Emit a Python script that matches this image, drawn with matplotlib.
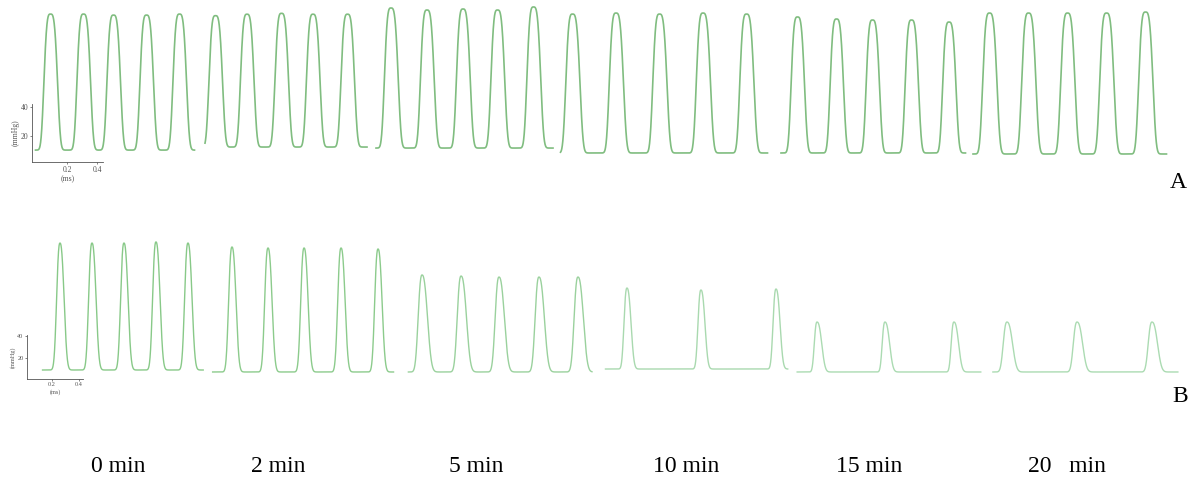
import numpy as np
import matplotlib
matplotlib.use("Agg")
import matplotlib.pyplot as plt

plt.rcParams['font.family'] = ['Liberation Serif', 'DejaVu Serif']

# labels under the traces
time_labels = ['0 min', '2 min', '5 min', '10 min', '15 min', '20   min']

# panel A: one block per time point (time in ms, pressure in mmHg)
a_start = [-0.01, 1.12, 2.26, 3.49, 4.96, 6.24]
a_end = [1.05, 2.20, 3.44, 4.87, 6.19, 7.53]
a_base = [10.3, 12.4, 11.7, 8.3, 8.3, 7.6]
a_peak_t = [
    [0.09, 0.31, 0.51, 0.73, 0.95],
    [1.19, 1.40, 1.63, 1.84, 2.07],
    [2.36, 2.60, 2.84, 3.07, 3.31],
    [3.57, 3.86, 4.15, 4.44, 4.73],
    [5.07, 5.33, 5.57, 5.83, 6.08],
    [6.35, 6.61, 6.87, 7.13, 7.39],
]
a_peak_p = [
    [104.1, 104.1, 103.4, 103.4, 104.1],
    [103.0, 104.0, 104.6, 104.0, 104.0],
    [108.3, 106.9, 107.6, 106.9, 109.0],
    [104.1, 104.8, 104.1, 104.8, 104.1],
    [102.1, 100.7, 100.0, 100.0, 98.6],
    [104.8, 104.8, 104.8, 104.8, 105.5],
]
a_rise = [0.044, 0.044, 0.044, 0.045, 0.043, 0.046]
a_fall = [0.047, 0.047, 0.048, 0.050, 0.047, 0.050]

# panel B
b_start = [0.13, 1.39, 2.84, 4.30, 5.72, 7.17]
b_end = [1.32, 2.73, 4.20, 5.65, 7.08, 8.54]
b_base = [9.1, 7.3, 7.3, 10.0, 7.3, 7.3]
b_peak_t = [
    [0.259, 0.496, 0.733, 0.970, 1.207],
    [1.533, 1.800, 2.067, 2.341, 2.615],
    [2.941, 3.230, 3.511, 3.807, 4.096],
    [4.459, 5.007, 5.563],
    [5.867, 6.370, 6.881],
    [7.274, 7.793, 8.348],
]
b_peak_p = [
    [124.5, 124.5, 124.5, 125.5, 124.5],
    [120.9, 120.0, 120.0, 120.0, 119.1],
    [95.5, 94.5, 93.6, 93.6, 93.6],
    [83.6, 81.8, 82.7],
    [52.7, 52.7, 52.7],
    [52.7, 52.7, 52.7],
]
b_rise = [0.027, 0.027, 0.031, 0.024, 0.022, 0.030]
b_fall = [0.033, 0.033, 0.044, 0.033, 0.038, 0.045]

a_color = '#80bd80'
b_colors = ['#88c988', '#8ccb8c', '#9ad19d', '#a9d9af', '#abdbb2', '#abdbb2']


def trace(t0, t1, base, pk_t, pk_p, hr, hf, k):
    t = np.linspace(t0, t1, 1500)
    y = np.full_like(t, base)
    for tp, pp in zip(pk_t, pk_p):
        dt = t - tp
        h = np.where(dt < 0, hr, hf)
        y += (pp - base) * 2.0 ** (-(np.abs(dt) / h) ** k)
    return t, y


def scale_bar(ax, x0, x1, y0, y1, fs):
    sb = ax.inset_axes([x0, y0, x1 - x0, y1 - y0], transform=ax.transData)
    sb.set_xlim(x0, x1)
    sb.set_ylim(y0, y1)
    sb.patch.set_alpha(0)
    for s in ['top', 'right']:
        sb.spines[s].set_visible(False)
    for s in ['left', 'bottom']:
        sb.spines[s].set_linewidth(0.6)
        sb.spines[s].set_color('#555555')
    sb.set_xticks([0.2, 0.4])
    sb.set_xticklabels(['0.2', '0.4'])
    sb.set_yticks([20, 40])
    sb.tick_params(length=1.5, width=0.5, pad=1, labelsize=fs, colors='#555555')
    sb.set_xlabel('(ms)', fontsize=fs, labelpad=1, color='#555555')
    sb.set_ylabel('(mmHg)', fontsize=fs, labelpad=1, color='#555555')


fig = plt.figure(figsize=(11.95, 4.82), dpi=100)

axA = fig.add_axes([0, 0.5, 1, 0.5])
axA.set_xlim(-0.2467, 7.72)
axA.set_ylim(-52.4, 113.8)
axA.axis('off')
for i in range(6):
    t, y = trace(a_start[i], a_end[i], a_base[i], a_peak_t[i], a_peak_p[i],
                 a_rise[i], a_fall[i], 3.5)
    axA.plot(t, y, color=a_color, lw=1.2)
scale_bar(axA, -0.033, 0.44, 2, 42, 5.5)

axB = fig.add_axes([0, 0, 1, 262 / 482])
axB.set_xlim(-0.1852, 8.667)
axB.set_ylim(-92.7, 145.45)
axB.axis('off')
for i in range(6):
    t, y = trace(b_start[i], b_end[i], b_base[i], b_peak_t[i], b_peak_p[i],
                 b_rise[i], b_fall[i], 2.5)
    axB.plot(t, y, color=b_colors[i], lw=1.0)
scale_bar(axB, 0.015, 0.43, 0.9, 41, 4.5)

fig.text(1178 / 1195, 1 - 183 / 482, 'A', fontsize=17, ha='center', va='center')
fig.text(1180 / 1195, 1 - 397 / 482, 'B', fontsize=17, ha='center', va='center')

label_x = [118, 278, 476, 686, 869, 1067]
for lx, lab in zip(label_x, time_labels):
    fig.text(lx / 1195, 1 - 466 / 482, lab, fontsize=17, ha='center', va='center')

fig.savefig('out.png', dpi=100, facecolor='white')
